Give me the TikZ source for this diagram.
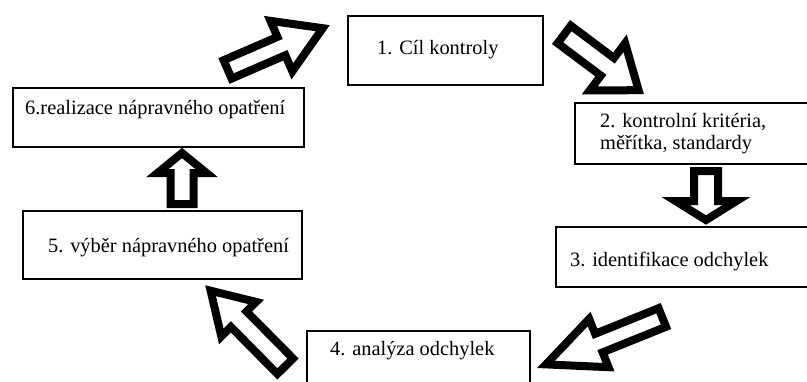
\documentclass[tikz,border=0pt]{standalone}
\usepackage{fontspec}
\newfontfamily\cilfont{Liberation Serif}
\usetikzlibrary{calc}

\tikzset{
  box/.style={draw,line width=1.8pt,inner sep=0,outer sep=0,anchor=north west},
  txt/.style={font=\cilfont\fontsize{20.4}{21.5}\selectfont,inner sep=0,anchor=base west},
  blk line/.style={draw,line width=8pt,line join=miter}
}
% block arrow: tail, tip
\pgfkeys{/blk/.cd,
  shaft/.store in=\blkshaft, head/.store in=\blkhead, len/.store in=\blklen}
\newcommand\blockarrow[3][]{%
  \pgfkeys{/blk/.cd,shaft=10pt,head=27.5pt,len=43pt,#1}%
  \coordinate (#2-#3) at ($(#3)!\blklen!(#2)$);
  \draw[blk line] ($(#2)!\blkshaft!90:(#3)$) -- ($(#2-#3)!\blkshaft!-90:(#2)$)
     -- ($(#2-#3)!\blkhead!-90:(#2)$) -- (#3)
     -- ($(#2-#3)!\blkhead!90:(#2)$) -- ($(#2-#3)!\blkshaft!90:(#2)$)
     -- ($(#2)!\blkshaft!-90:(#3)$) -- cycle;}

\begin{document}
\begin{tikzpicture}[x=1pt,y=-1pt]
	\useasboundingbox (0,0) rectangle (807,381);
% boxes
	\node[box,minimum width=195,minimum height=69] (b1) at (348,16) {};
	\node[box,minimum width=255,minimum height=61] (b2) at (575,103) {};
	\node[box,minimum width=274,minimum height=60] (b3) at (556,227) {};
	\node[box,minimum width=223,minimum height=70] (b4) at (307,331) {};
	\node[box,minimum width=279,minimum height=68] (b5) at (23,211) {};
	\node[box,minimum width=291,minimum height=59] (b6) at (13,88) {};
% texts
	\node[txt] (t1) at ([shift={(29,38)}]b1.north west) {1. Cíl kontroly};
	\node[txt,align=left] (t2) at ([shift={(25,46.2)}]b2.north west) {2. kontrolní kritéria,\\měřítka, standardy};
	\node[txt] (t3) at ([shift={(14,39.7)}]b3.north west) {3. identifikace odchylek};
	\node[txt] (t4) at ([shift={(23,24)}]b4.north west) {4. analýza odchylek};
	\node[txt] (t5) at ([shift={(25,41.7)}]b5.north west) {5. výběr nápravného opatření};
	\node[txt] (t6) at ([shift={(12,26)}]b6.north west) {6.realizace nápravného opatření};
% arrows between steps
	\coordinate (a61) at (227.6,69.4);  \coordinate (e61) at (322.7,28.2);
	\coordinate (a12) at (564.2,34.4);  \coordinate (e12) at (638.6,90.2);
	\coordinate (a23) at (706,171);     \coordinate (e23) at (706,220);
	\coordinate (a34) at (662.3,317.5); \coordinate (e34) at (546,364.4);
	\coordinate (a45) at (285.2,366.2); \coordinate (e45) at (210.6,290.7);
	\coordinate (a56) at (182,204);     \coordinate (e56) at (182,153);

	\blockarrow[len=45pt,head=27.5pt]{a61}{e61}
	\blockarrow[len=39pt,head=29.5pt,shaft=11pt]{a12}{e12}
	\blockarrow[len=19pt,head=30.5pt,shaft=12pt]{a23}{e23}
	\blockarrow[len=57pt,head=26pt]{a34}{e34}
	\blockarrow[len=40pt,head=24.5pt,shaft=11pt]{a45}{e45}
	\blockarrow[len=20pt,head=24.5pt,shaft=11.5pt]{a56}{e56}
\end{tikzpicture}
\end{document}
